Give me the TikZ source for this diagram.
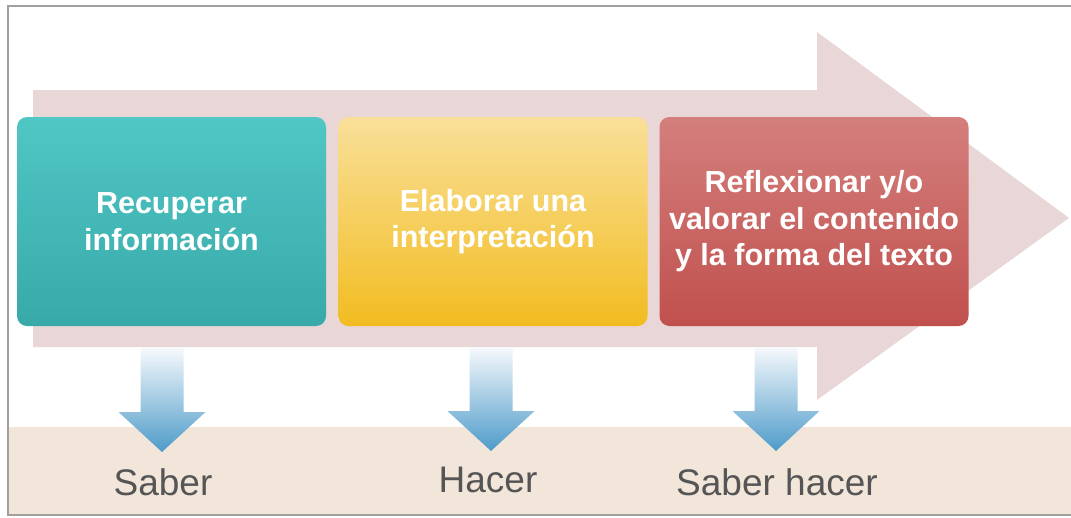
\documentclass[tikz,border=0pt]{standalone}
\usepackage{fontspec}
\setmainfont{Liberation Sans}
\definecolor{frame}{HTML}{A0A0A0}
\definecolor{band}{HTML}{F2E6DB}
\definecolor{bigarrow}{HTML}{E9D6D6}
\definecolor{tealtop}{HTML}{50C6C5}
\definecolor{tealbot}{HTML}{38A9A9}
\definecolor{yeltop}{HTML}{F9E09A}
\definecolor{yelbot}{HTML}{F2BC20}
\definecolor{redtop}{HTML}{D47F7D}
\definecolor{redbot}{HTML}{C0504D}
\definecolor{bluetop}{HTML}{F6F9FC}
\definecolor{bluebot}{HTML}{4E9BC9}
\definecolor{labelgray}{HTML}{555555}
\tikzset{
  stepbox/.style={rectangle, rounded corners=10pt, minimum width=309pt, minimum height=209pt,
    inner sep=0pt, align=center, text=white,
    font=\fontsize{30.5}{36.5}\selectfont\bfseries},
  levellabel/.style={anchor=base, text=labelgray, inner sep=0pt,
    font=\fontsize{37}{40}\selectfont},
  pics/downarrow/.style={code={
    \path[top color=bluetop, bottom color=bluebot]
      (-21.5,0) -- (21.5,0) -- (21.5,64) -- (43.5,64) -- (0,104) -- (-43.5,64) -- (-21.5,64) -- cycle;
  }}
}
\begin{document}
\begin{tikzpicture}[x=1pt, y=-1pt]
  \useasboundingbox (0,0) rectangle (1071,517);
  \fill[white] (0,0) rectangle (1071,517);
  % bottom band
  \fill[band] (8,427) rectangle (1071,515);
  % frame
  \draw[frame, line width=2pt] (1080,6) -- (8,6) -- (8,515) -- (1080,515);
  % big arrow
  \fill[bigarrow] (33,90) -- (817,90) -- (817,32) -- (1069,218) -- (817,400) -- (817,347) -- (33,347) -- cycle;
  % boxes
  \node[stepbox, top color=tealtop, bottom color=tealbot] (b1) at (171.5,221.5)
    {Recuperar\\información};
  \node[stepbox, top color=yeltop, bottom color=yelbot] (b2) at (493,221.5)
    {Elaborar una\\interpretación};
  \node[stepbox, top color=redtop, bottom color=redbot] (b3) at (814,221.5)
    {Reflexionar y/o\\valorar el contenido\\y la forma del texto};
  % down arrows
  \pic at (162,348) {downarrow};
  \pic at (491,347) {downarrow};
  \pic at (776,347) {downarrow};
  % labels
  \node[levellabel] (l1) at (163,495) {Saber};
  \node[levellabel] (l2) at (488,492) {Hacer};
  \node[levellabel] (l3) at (777,495) {Saber hacer};
\end{tikzpicture}
\end{document}
